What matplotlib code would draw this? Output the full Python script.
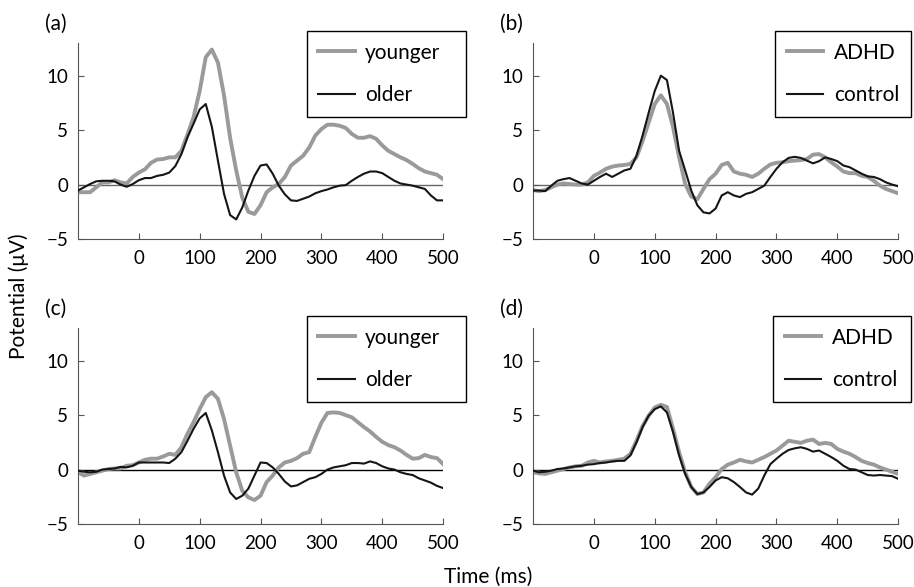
import numpy as np
import matplotlib.pyplot as plt

plt.rcParams['font.family'] = ['Lato', 'DejaVu Sans']
plt.rcParams['font.size'] = 15

# sampling grid, ms
time_ms = list(range(-100, 501, 10))

young_a = [-0.7, -0.7, -0.7, -0.25, 0.2, 0.2, 0.4, 0.2, 0.1, 0.7,
           1.1, 1.4, 2.0, 2.3, 2.35, 2.5, 2.5, 3.1, 4.6, 6.2,
           8.6, 11.7, 12.4, 11.2, 8.2, 4.3, 1.3, -1.2, -2.5, -2.7,
           -1.9, -0.7, -0.25, 0.05, 0.7, 1.75, 2.2, 2.65, 3.4, 4.5,
           5.1, 5.5, 5.5, 5.4, 5.2, 4.65, 4.3, 4.3, 4.45, 4.2,
           3.6, 3.1, 2.8, 2.5, 2.25, 1.9, 1.5, 1.2, 1.05, 0.9, 0.5]
old_a = [-0.55, -0.25, 0.05, 0.3, 0.35, 0.35, 0.3, 0.0, -0.2, 0.05,
         0.4, 0.6, 0.6, 0.8, 0.9, 1.1, 1.7, 2.8, 4.35, 5.6,
         6.9, 7.4, 5.3, 2.2, -0.85, -2.8, -3.2, -2.1, -0.55, 0.8,
         1.75, 1.85, 1.0, -0.1, -0.9, -1.45, -1.5, -1.3, -1.1, -0.8,
         -0.6, -0.45, -0.25, -0.1, -0.05, 0.35, 0.7, 1.0, 1.2, 1.2,
         1.05, 0.7, 0.35, 0.1, 0.0, -0.1, -0.25, -0.4, -1.0, -1.45, -1.45]

adhd_b = [-0.5, -0.6, -0.5, -0.25, 0.0, 0.1, 0.05, 0.0, 0.0, 0.2,
          0.8, 1.1, 1.45, 1.65, 1.75, 1.8, 1.9, 2.5, 4.0, 5.7,
          7.4, 8.2, 7.4, 5.3, 2.5, 0.05, -1.1, -1.35, -0.4, 0.5,
          1.0, 1.8, 2.0, 1.2, 1.0, 0.9, 0.7, 1.0, 1.45, 1.85,
          2.0, 2.05, 2.15, 2.2, 2.25, 2.35, 2.75, 2.8, 2.5, 2.05,
          1.65, 1.2, 1.05, 1.05, 0.8, 0.7, 0.35, -0.1, -0.4, -0.6, -0.8]
control_b = [-0.55, -0.55, -0.6, -0.1, 0.35, 0.5, 0.6, 0.35, 0.1, 0.0,
             0.35, 0.7, 1.0, 0.7, 1.0, 1.3, 1.45, 2.65, 4.5, 6.6,
             8.6, 10.0, 9.6, 6.6, 3.1, 1.3, -0.55, -1.9, -2.55, -2.65,
             -2.2, -1.0, -0.7, -1.0, -1.15, -0.85, -0.7, -0.4, -0.1, 0.7,
             1.45, 2.05, 2.45, 2.55, 2.45, 2.2, 1.95, 2.15, 2.5, 2.35,
             2.15, 1.75, 1.6, 1.3, 1.0, 0.75, 0.7, 0.5, 0.2, 0.0, -0.15]

young_c = [-0.25, -0.55, -0.4, -0.25, -0.1, 0.05, 0.1, 0.1, 0.35, 0.4,
           0.65, 0.9, 1.0, 1.0, 1.2, 1.45, 1.35, 2.05, 3.3, 4.35,
           5.55, 6.65, 7.1, 6.5, 4.65, 2.2, -0.25, -1.95, -2.55, -2.8,
           -2.4, -1.15, -0.55, 0.2, 0.65, 0.8, 1.05, 1.45, 1.6, 3.0,
           4.3, 5.2, 5.25, 5.2, 5.0, 4.8, 4.35, 3.9, 3.5, 3.0,
           2.55, 2.25, 2.05, 1.75, 1.35, 1.0, 1.05, 1.35, 1.15, 1.05, 0.5]
old_c = [-0.1, -0.2, -0.25, -0.2, 0.0, 0.05, 0.1, 0.25, 0.2, 0.35,
         0.65, 0.65, 0.65, 0.65, 0.65, 0.6, 1.0, 1.6, 2.65, 3.75,
         4.7, 5.2, 3.6, 1.6, -0.55, -2.1, -2.7, -2.4, -1.75, -0.55,
         0.65, 0.6, 0.2, -0.4, -1.1, -1.55, -1.45, -1.15, -0.85, -0.7,
         -0.4, 0.0, 0.2, 0.3, 0.4, 0.6, 0.6, 0.55, 0.75, 0.6,
         0.3, 0.1, 0.0, -0.25, -0.4, -0.5, -0.8, -1.0, -1.2, -1.5, -1.7]

adhd_d = [-0.25, -0.35, -0.4, -0.25, -0.1, 0.05, 0.2, 0.3, 0.35, 0.65,
          0.8, 0.65, 0.75, 0.8, 0.9, 1.0, 1.45, 2.65, 4.0, 4.95,
          5.7, 5.95, 5.75, 3.75, 1.6, -0.25, -1.6, -2.25, -2.1, -1.3,
          -0.7, 0.05, 0.45, 0.65, 0.9, 0.75, 0.65, 0.9, 1.15, 1.45,
          1.75, 2.2, 2.65, 2.55, 2.45, 2.65, 2.75, 2.35, 2.45, 2.35,
          1.9, 1.65, 1.45, 1.15, 0.8, 0.6, 0.45, 0.2, 0.0, -0.2, -0.4]
control_d = [-0.1, -0.25, -0.2, -0.1, 0.05, 0.1, 0.2, 0.3, 0.35, 0.45,
             0.5, 0.6, 0.65, 0.75, 0.8, 0.8, 1.3, 2.5, 3.9, 4.95,
             5.55, 5.8, 5.25, 3.45, 1.3, -0.4, -1.6, -2.25, -2.1, -1.6,
             -1.0, -0.7, -0.8, -1.15, -1.6, -2.1, -2.3, -1.75, -0.55, 0.5,
             1.0, 1.45, 1.8, 1.95, 2.05, 1.9, 1.65, 1.75, 1.45, 1.15,
             0.8, 0.35, 0.05, 0.0, -0.25, -0.5, -0.55, -0.5, -0.55, -0.6, -0.85]

panels = [
    ["(a)", young_a, old_a, "younger", "older", "#666666", [0.0853, 0.5928], 0.627, 1.063],
    ["(b)", adhd_b, control_b, "ADHD", "control", "#666666", [0.5832, 0.5928], 0.664, 1.036],
    ["(c)", young_c, old_c, "younger", "older", "black", [0.0853, 0.1073], 0.627, 1.063],
    ["(d)", adhd_d, control_d, "ADHD", "control", "black", [0.5832, 0.1073], 0.658, 1.036],
]

fig = plt.figure(figsize=(9.14, 5.87), dpi=100)

for tag, grey, black, lbl1, lbl2, zc, pos, lx0, lx1 in panels:
    ax = fig.add_axes([pos[0], pos[1], 0.3995, 0.3339])
    ax.axhline(0, color=zc, lw=1.0, zorder=1)
    ax.plot(time_ms, grey, color="#9a9a9a", lw=2.8, label=lbl1, zorder=2)
    ax.plot(time_ms, black, color="#151515", lw=1.5, label=lbl2, zorder=3)
    ax.set_xlim(-100, 500)
    ax.set_ylim(-5, 13)
    ax.set_xticks([0, 100, 200, 300, 400, 500])
    ax.set_yticks([-5, 0, 5, 10])
    ax.set_yticklabels(["\u22125", "0", "5", "10"])
    for s in ["top", "right"]:
        ax.spines[s].set_visible(False)
    for s in ["left", "bottom"]:
        ax.spines[s].set_color("#555555")
    ax.tick_params(direction="in", length=4, color="#555555", labelsize=13.5)
    ax.tick_params(axis="x", pad=8)
    ax.tick_params(axis="y", pad=7)
    leg = ax.legend(loc="upper left", bbox_to_anchor=(lx0, 0.617, lx1 - lx0, 0.444),
                    mode="expand", borderaxespad=0, fancybox=False, framealpha=1,
                    edgecolor="black", handlelength=1.75, handletextpad=0.5,
                    labelspacing=1.1, borderpad=0.55, fontsize=15)
    leg.get_frame().set_linewidth(1.0)
    ax.text(-0.06, 1.10, tag, transform=ax.transAxes, ha="center", va="center")

fig.text(0.021, 0.495, "Potential (\u03bcV)", rotation=90, ha="center", va="center")
fig.text(0.534, 0.017, "Time (ms)", ha="center", va="center")

plt.savefig("out.png", dpi=100)
plt.close("all")
